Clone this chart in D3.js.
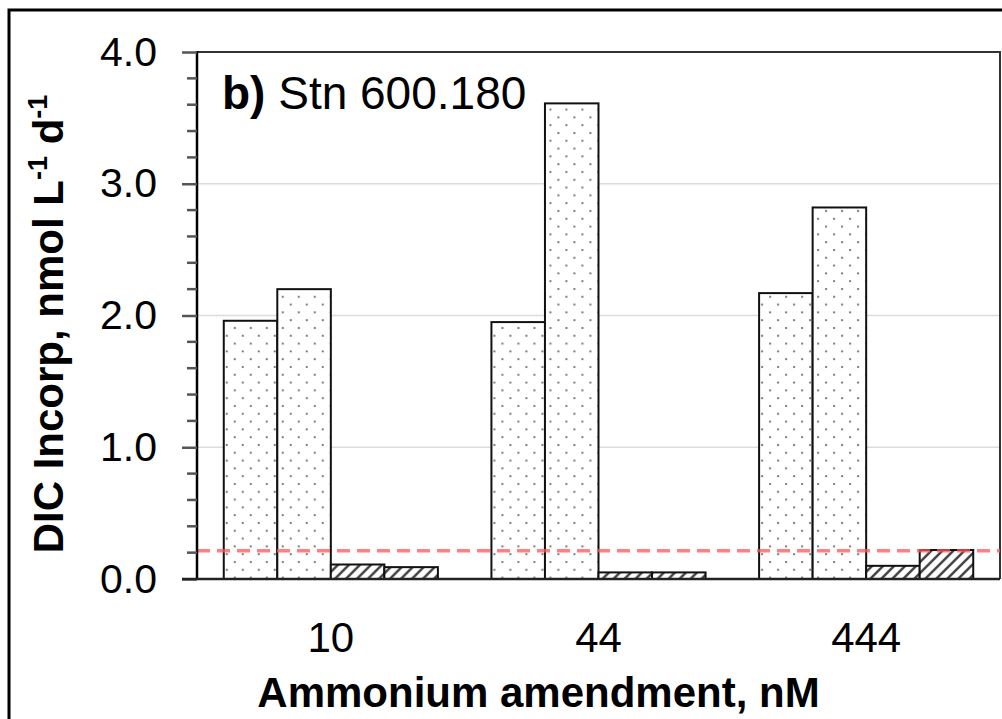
<!DOCTYPE html>
<html>
<head>
<meta charset="utf-8">
<script src="https://cdn.jsdelivr.net/npm/d3@7"></script>
<style>
  html, body { margin: 0; padding: 0; background: #fff; }
  svg { display: block; font-family: "Liberation Sans", Arial, sans-serif; }
</style>
</head>
<body>
<svg width="1002" height="719"></svg>
<script>
// data
const categories = ["10", "44", "444"];
const seriesNames = ["rep1", "rep2", "rep3", "rep4"];
const rep1 = [1.96, 1.95, 2.17];
const rep2 = [2.20, 3.61, 2.82];
const rep3 = [0.11, 0.05, 0.10];
const rep4 = [0.09, 0.05, 0.22];
const seriesFill = ["dots", "dots", "hatch", "hatch"];
const yTicks = [0, 1, 2, 3, 4];
const detectionLimit = 0.215;
const panelLabel = "b)";
const panelTitle = "Stn 600.180";

const values = [rep1, rep2, rep3, rep4];

const svg = d3.select("svg"),
      width = +svg.attr("width"),
      height = +svg.attr("height"),
      margin = { top: 52, right: 2, bottom: 140, left: 197 };

const chartWidth = width - margin.left - margin.right;
const chartHeight = height - margin.top - margin.bottom;

// patterns
const defs = svg.append("defs");
const dots = defs.append("pattern")
  .attr("id", "dots")
  .attr("patternUnits", "userSpaceOnUse")
  .attr("width", 16).attr("height", 15.6);
dots.append("rect").attr("width", 16).attr("height", 15.6).attr("fill", "#fff");
dots.append("circle").attr("cx", 3).attr("cy", 3).attr("r", 1.1).attr("fill", "#666");
dots.append("circle").attr("cx", 11).attr("cy", 10.8).attr("r", 1.1).attr("fill", "#666");

const hatch = defs.append("pattern")
  .attr("id", "hatch")
  .attr("patternUnits", "userSpaceOnUse")
  .attr("width", 11).attr("height", 11);
hatch.append("rect").attr("width", 11).attr("height", 11).attr("fill", "#fff");
hatch.append("path")
  .attr("d", "M0,11 L11,0 M-3,3 L3,-3 M8,14 L14,8")
  .attr("stroke", "#444")
  .attr("stroke-width", 2.5);

// outer frame
svg.append("rect")
  .attr("x", 9).attr("y", 10)
  .attr("width", 1010).attr("height", 730)
  .attr("fill", "none")
  .attr("stroke", "#000")
  .attr("stroke-width", 3);

const g = svg.append("g")
  .attr("transform", `translate(${margin.left},${margin.top})`);

// scales
const x = d3.scaleBand()
  .domain(categories)
  .range([0, chartWidth])
  .paddingInner(0.2)
  .paddingOuter(0.1);

const xs = d3.scaleBand()
  .domain(seriesNames)
  .range([0, x.bandwidth()]);

const y = d3.scaleLinear()
  .domain([0, 4])
  .range([chartHeight, 0]);

// grid
g.append("g")
  .selectAll("line")
  .data(yTicks.slice(1, -1))
  .enter()
  .append("line")
  .attr("x1", 0).attr("x2", chartWidth)
  .attr("y1", d => y(d)).attr("y2", d => y(d))
  .attr("stroke", "#dcdcdc")
  .attr("stroke-width", 1.5);

// plot border top / right
g.append("path")
  .attr("d", `M0,${y(4)}H${chartWidth}V${chartHeight}`)
  .attr("fill", "none")
  .attr("stroke", "#333")
  .attr("stroke-width", 2);

// bars
const groups = g.selectAll(".grp")
  .data(categories)
  .enter()
  .append("g")
  .attr("class", "grp")
  .attr("transform", d => `translate(${x(d)},0)`);

groups.selectAll("rect")
  .data((c, ci) => seriesNames.map((s, si) => ({ s, si, v: values[si][ci] })))
  .enter()
  .append("rect")
  .attr("x", d => xs(d.s))
  .attr("y", d => y(d.v))
  .attr("width", xs.bandwidth())
  .attr("height", d => chartHeight - y(d.v))
  .attr("fill", d => `url(#${seriesFill[d.si]})`)
  .attr("stroke", "#111")
  .attr("stroke-width", 2);

// detection limit line
g.append("line")
  .attr("x1", 0).attr("x2", chartWidth)
  .attr("y1", y(detectionLimit)).attr("y2", y(detectionLimit))
  .attr("stroke", "#ff5555")
  .attr("stroke-opacity", 0.75)
  .attr("stroke-width", 3.5)
  .attr("stroke-dasharray", "13,7");

// y axis, major + minor ticks
const yAxis = g.append("g")
  .call(d3.axisLeft(y).tickValues(yTicks).tickFormat(d3.format(".1f")).tickSize(15).tickPadding(25))
  .call(a => a.select(".domain").attr("stroke", "#000").attr("stroke-width", 2.5).attr("d", `M0,${chartHeight + 1}V${y(4) - 1}`));
yAxis.selectAll(".tick line").attr("stroke", "#555").attr("stroke-width", 2.5);
yAxis.selectAll(".tick text")
  .attr("fill", "#000")
  .style("font-size", "41px");

const minor = d3.range(0.2, 4, 0.2).filter(v => Math.abs(v - Math.round(v)) > 0.01);
g.append("g")
  .selectAll("line")
  .data(minor)
  .enter()
  .append("line")
  .attr("x1", -10).attr("x2", 0)
  .attr("y1", d => y(d)).attr("y2", d => y(d))
  .attr("stroke", "#555")
  .attr("stroke-width", 2.5);

// x axis
const xAxis = g.append("g")
  .attr("transform", `translate(0,${chartHeight})`)
  .call(d3.axisBottom(x).tickSize(0).tickPadding(43));
xAxis.select(".domain").attr("stroke", "#222").attr("stroke-width", 2.5).attr("d", `M-15,0H${chartWidth}`);
xAxis.selectAll(".tick text")
  .attr("fill", "#000")
  .style("font-size", "42px");

// axis titles
svg.append("text")
  .attr("x", margin.left + chartWidth / 2 - 60)
  .attr("y", 707)
  .attr("text-anchor", "middle")
  .style("font-size", "42px")
  .style("font-weight", "bold")
  .text("Ammonium amendment, nM");

const yt = svg.append("text")
  .attr("transform", "translate(63,324) rotate(-90)")
  .attr("text-anchor", "middle")
  .style("font-size", "42px")
  .style("font-weight", "bold");
yt.append("tspan").text("DIC Incorp, nmol L");
yt.append("tspan").attr("dy", -16).style("font-size", "27px").text("-1");
yt.append("tspan").attr("dy", 16).text(" d");
yt.append("tspan").attr("dy", -16).style("font-size", "27px").text("-1");

// panel label
const pl = g.append("text")
  .attr("x", 25)
  .attr("y", 57)
  .style("font-size", "46px");
pl.append("tspan").style("font-weight", "bold").text(panelLabel);
pl.append("tspan").text(" " + panelTitle);
</script>
</body>
</html>
